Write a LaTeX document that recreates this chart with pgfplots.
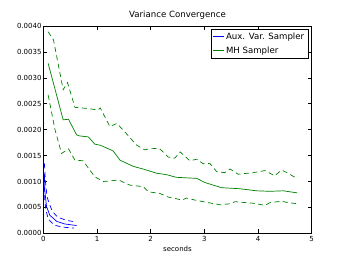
\documentclass[border=0pt]{standalone}
\usepackage{fontspec}
\setmainfont{DejaVu Sans}
\usepackage{pgfplots}
\pgfplotsset{compat=1.18}
\definecolor{mplgreen}{rgb}{0,0.5,0}
\begin{document}
\begin{tikzpicture}
\useasboundingbox (0,0) rectangle (346bp,260bp);
\begin{axis}[
  at={(43.3bp,26.7bp)}, anchor=south west,
  scale only axis, width=268.4bp, height=207.3bp,
  xmin=0, xmax=5, ymin=0, ymax=0.004,
  xtick={0,1,2,3,4,5},
  ytick={0,0.0005,0.001,0.0015,0.002,0.0025,0.003,0.0035,0.004},
  scaled y ticks=false,
  /pgf/number format/assume math mode=true,
  yticklabel style={/pgf/number format/fixed, /pgf/number format/fixed zerofill, /pgf/number format/precision=4, anchor=east, xshift=-1.6bp},
  tick label style={font=\fontsize{7bp}{8bp}\selectfont, inner sep=0pt},
  xticklabel style={anchor=north, yshift=-2.7bp},
  tick align=inside, major tick length=4bp,
  axis line style={line width=0.8bp},
  every tick/.style={black, line width=0.5bp},
  title={Variance Convergence},
  title style={at={(0.5,1)}, anchor=base, yshift=3bp, inner sep=0pt, font=\fontsize{8.6bp}{10bp}\selectfont},
  xlabel={seconds},
  xlabel style={at={(0.5,0)}, anchor=north, yshift=-12.7bp, inner sep=0pt, font=\fontsize{7bp}{8bp}\selectfont},
  legend style={at={(1,1)}, anchor=north east, xshift=-3.7bp, yshift=-3bp,
    draw=black, font=\fontsize{8.6bp}{10bp}\selectfont,
    inner xsep=2bp, inner ysep=2bp, row sep=2.5bp,
    nodes={inner sep=1.6bp}},
  legend cell align=left,
  legend image code/.code={\draw[#1, line width=1bp] (2.5bp,0bp) -- (13bp,0bp);},
]
\addplot[draw=blue, line width=0.7bp] coordinates {
(0.02,0.00115) (0.03,0.0008) (0.06,0.00052) (0.12,0.00035) (0.25,0.00023) (0.40,0.00018) (0.62,0.00015)};
\addlegendentry{Aux. Var. Sampler}
\addplot[draw=mplgreen, line width=0.7bp] coordinates {
(0.09,0.00328) (0.37,0.00219) (0.47,0.00220) (0.62,0.00190) (0.67,0.00188) (0.84,0.00186) (0.96,0.00172) (1.06,0.00170) (1.30,0.00159) (1.43,0.00141) (1.68,0.00129) (1.86,0.00124) (2.11,0.00116) (2.30,0.00113) (2.48,0.00108) (2.86,0.00106) (3.01,0.00098) (3.32,0.00088) (3.66,0.00086) (3.97,0.00082) (4.22,0.00081) (4.47,0.00082) (4.73,0.00078)};
\addlegendentry{MH Sampler}
\addplot[blue, line width=0.7bp, dash pattern=on 5bp off 3.5bp, forget plot] coordinates {
(0.02,0.00135) (0.04,0.0010) (0.07,0.0007) (0.12,0.00055) (0.17,0.00042) (0.27,0.00031) (0.43,0.00025) (0.60,0.00022)};
\addplot[blue, line width=0.7bp, dash pattern=on 5bp off 3.5bp, forget plot] coordinates {
(0.02,0.0009) (0.03,0.0006) (0.05,0.00045) (0.09,0.00028) (0.20,0.00016) (0.35,0.00012) (0.57,0.00010)};
\addplot[mplgreen, line width=0.7bp, dash pattern=on 5bp off 3.5bp, forget plot] coordinates {
(0.09,0.00389) (0.19,0.00373) (0.37,0.00277) (0.45,0.00291) (0.59,0.00243) (0.81,0.00241) (1.02,0.00238) (1.06,0.00242) (1.24,0.00206) (1.37,0.00212) (1.49,0.00199) (1.74,0.00170) (1.89,0.00161) (2.02,0.00164) (2.17,0.00163) (2.33,0.00147) (2.45,0.00145) (2.55,0.00157) (2.73,0.00140) (2.86,0.00143) (2.98,0.00134) (3.10,0.00135) (3.23,0.00119) (3.38,0.00117) (3.48,0.00124) (3.63,0.00114) (3.91,0.00117) (4.13,0.00121) (4.31,0.00111) (4.44,0.00122) (4.56,0.00116) (4.72,0.00106)};
\addplot[mplgreen, line width=0.7bp, dash pattern=on 5bp off 3.5bp, forget plot] coordinates {
(0.09,0.00267) (0.22,0.00199) (0.34,0.00154) (0.47,0.00163) (0.59,0.00141) (0.74,0.00140) (0.96,0.00109) (1.12,0.00100) (1.24,0.00101) (1.40,0.00103) (1.61,0.00093) (1.86,0.00090) (1.96,0.00080) (2.17,0.00077) (2.30,0.00071) (2.36,0.00069) (2.51,0.00066) (2.58,0.00064) (2.67,0.00068) (2.83,0.00064) (2.98,0.00061) (3.29,0.00055) (3.48,0.00057) (3.57,0.00061) (3.91,0.00058) (4.13,0.00054) (4.22,0.00059) (4.44,0.00062) (4.56,0.00059) (4.75,0.00057)};
\end{axis}
\end{tikzpicture}
\end{document}
